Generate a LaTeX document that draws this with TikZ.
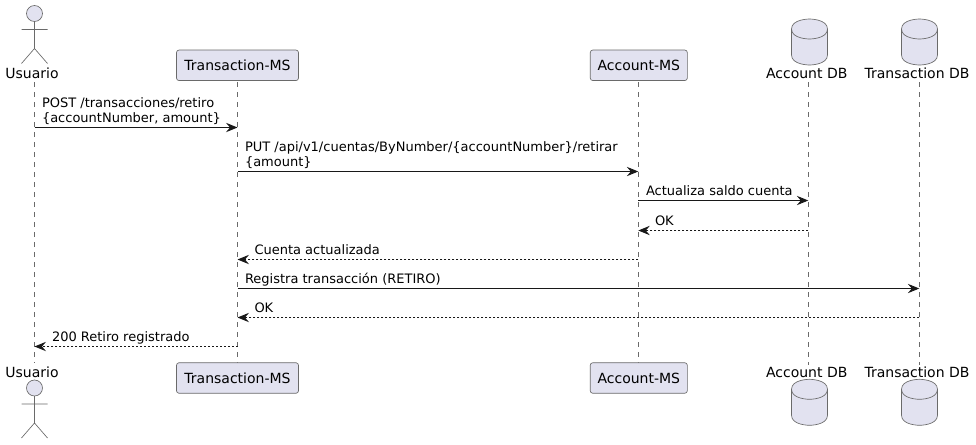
\documentclass[tikz,border=0pt]{standalone}
\usepackage{fontspec}
\setmainfont{DejaVu Sans}
\usetikzlibrary{arrows.meta}
\definecolor{pfill}{HTML}{E2E2F0}
\definecolor{pline}{HTML}{181818}
\definecolor{soft}{HTML}{6A6A6A}
\tikzset{
  x=0.75pt,y=-0.75pt,
  txt/.style={font=\fontsize{10.5}{12.2}\selectfont,text=black,inner sep=0pt,outer sep=0pt},
  msgtxt/.style={txt,font=\fontsize{9.75}{11.2}\selectfont,anchor=south west,align=left,text depth=3pt},
  headlabel/.style={txt,anchor=center,text height=8pt,text depth=2pt},
  pbox/.style={txt,draw=soft,fill=pfill,line width=0.5pt,rounded corners=1.9pt,minimum height=22.9pt,anchor=center},
  figure/.style={draw=soft,fill=pfill,line width=0.5pt},
  life/.style={draw=soft,line width=0.45pt,dash pattern=on 3.75pt off 3.75pt},
  msg/.style={draw=pline,line width=0.75pt,-{Stealth[length=8.6pt,width=7pt,inset=3pt,fill=pline]}},
  rmsg/.style={msg,dash pattern=on 1.5pt off 1.5pt},
}
\newcommand{\dbcyl}[2]{% centre x, top y
  \path[figure] (#1-18,#2+10) .. controls (#1-18,#2) and (#1,#2) .. (#1,#2)
    .. controls (#1,#2) and (#1+18,#2) .. (#1+18,#2+10)
    -- (#1+18,#2+36) .. controls (#1+18,#2+46) and (#1,#2+46) .. (#1,#2+46)
    .. controls (#1,#2+46) and (#1-18,#2+46) .. (#1-18,#2+36) -- cycle;
  \path[figure,fill=none] (#1-18,#2+10) .. controls (#1-18,#2+20) and (#1,#2+20) .. (#1,#2+20)
    .. controls (#1,#2+20) and (#1+18,#2+20) .. (#1+18,#2+10);
}
\newcommand{\actorfig}[2]{% centre x, head centre y
  \draw[figure] (#1,#2) circle[radius=6pt];
  \draw[figure,fill=none] (#1,#2+8) -- (#1,#2+35) (#1-13,#2+16) -- (#1+13,#2+16)
    (#1-13,#2+50) -- (#1,#2+35) -- (#1+13,#2+50);
}
\begin{document}
\begin{tikzpicture}
\useasboundingbox (0,0) rectangle (976,444);
% lifeline end points
\coordinate (u1) at (34.5,82);  \coordinate (u2) at (34.5,363);
\coordinate (t1) at (237.5,82); \coordinate (t2) at (237.5,363);
\coordinate (a1) at (638.3,82);   \coordinate (a2) at (638.3,363);
\coordinate (d1) at (808.3,82); \coordinate (d2) at (808.3,365);
\coordinate (x1) at (919.3,82); \coordinate (x2) at (919.3,365);
\draw[life] (u1) -- (u2);
\draw[life] (t1) -- (t2);
\draw[life] (a1) -- (a2);
\draw[life] (d1) -- (d2);
\draw[life] (x1) -- (x2);
% participants
\actorfig{34.5}{13.5}
\node[headlabel] (usertop) at (32,74.5) {Usuario};
\actorfig{34.5}{388}
\node[headlabel] (userbot) at (32,373.5) {Usuario};
\node[pbox,minimum width=91.5pt] (transtop) at (237.5,65.3) {Transaction-MS};
\node[pbox,minimum width=91.5pt] (transbot) at (237.5,378) {Transaction-MS};
\node[pbox,minimum width=72.8pt] (acctop) at (638.8,65.3) {Account-MS};
\node[pbox,minimum width=72.8pt] (accbot) at (638.8,378) {Account-MS};
\dbcyl{809.5}{19}
\node[headlabel] (dbatop) at (806.7,74.5) {Account DB};
\dbcyl{809.5}{379.3}
\node[headlabel] (dbabot) at (806.7,373.5) {Account DB};
\dbcyl{919.5}{19}
\node[headlabel] (dbttop) at (917,74.5) {Transaction DB};
\dbcyl{919.5}{379.3}
\node[headlabel] (dbtbot) at (917,373.5) {Transaction DB};
% message rows
\coordinate (m1) at (0,127.5);
\coordinate (m2) at (0,171.5);
\coordinate (m3) at (0,200.5);
\coordinate (m4) at (0,230.5);
\coordinate (m5) at (0,259.5);
\coordinate (m6) at (0,288.5);
\coordinate (m7) at (0,317.5);
\coordinate (m8) at (0,346.5);
\draw[msg] (u1 |- m1) -- (t1 |- m1);
\draw[msg] (t1 |- m2) -- (a1 |- m2);
\draw[msg] (a1 |- m3) -- (d1 |- m3);
\draw[rmsg] (d1 |- m4) -- (a1 |- m4);
\draw[rmsg] (a1 |- m5) -- (t1 |- m5);
\draw[msg] (t1 |- m6) -- (x1 |- m6);
\draw[rmsg] (x1 |- m7) -- (t1 |- m7);
\draw[rmsg] (t1 |- m8) -- (u1 |- m8);
\node[msgtxt] (l1) at (42,126) {POST /transacciones/retiro\\\{accountNumber, amount\}};
\node[msgtxt] (l2) at (245,170) {PUT /api/v1/cuentas/ByNumber/\{accountNumber\}/retirar\\\{amount\}};
\node[msgtxt] (l3) at (646,199) {Actualiza saldo cuenta};
\node[msgtxt] (l4) at (655,229) {OK};
\node[msgtxt] (l5) at (254.5,258) {Cuenta actualizada};
\node[msgtxt] (l6) at (245,287) {Registra transacción (RETIRO)};
\node[msgtxt] (l7) at (254.5,316) {OK};
\node[msgtxt] (l8) at (52,345) {200 Retiro registrado};
\end{tikzpicture}
\end{document}
